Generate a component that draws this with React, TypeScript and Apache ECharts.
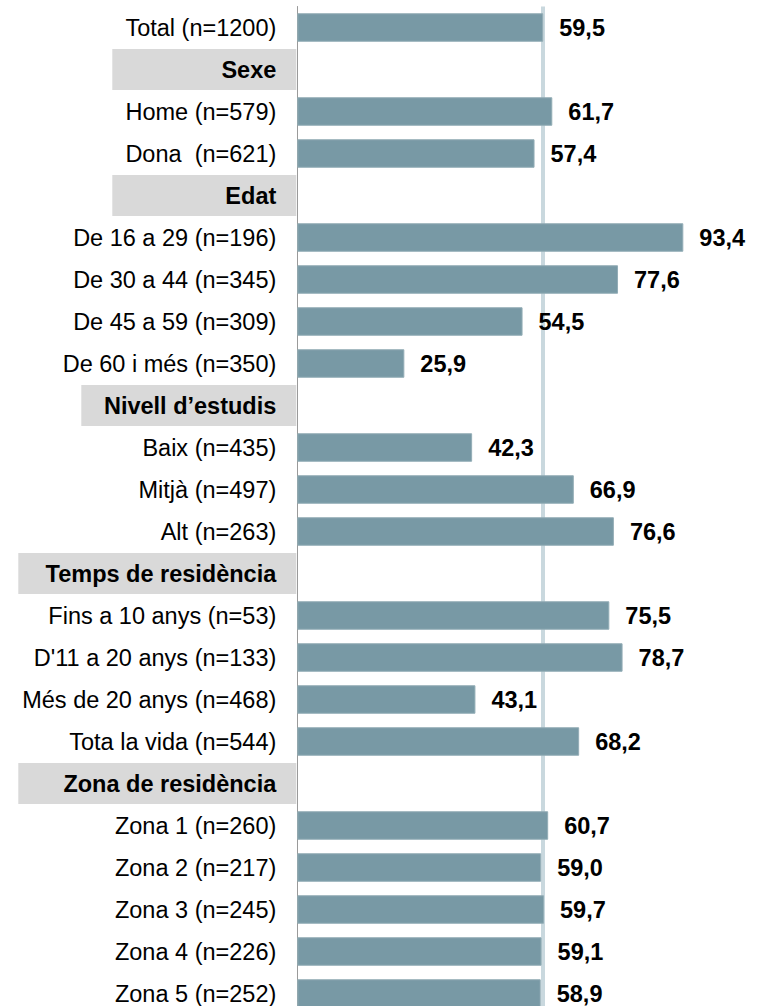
import React, { useEffect, useRef } from "react";
import * as echarts from "echarts";

const categories: string[] = [
  "Total (n=1200)",
  "Sexe",
  "Home (n=579)",
  "Dona  (n=621)",
  "Edat",
  "De 16 a 29 (n=196)",
  "De 30 a 44 (n=345)",
  "De 45 a 59 (n=309)",
  "De 60 i més (n=350)",
  "Nivell d’estudis",
  "Baix (n=435)",
  "Mitjà (n=497)",
  "Alt (n=263)",
  "Temps de residència",
  "Fins a 10 anys (n=53)",
  "D'11 a 20 anys (n=133)",
  "Més de 20 anys (n=468)",
  "Tota la vida (n=544)",
  "Zona de residència",
  "Zona 1 (n=260)",
  "Zona 2 (n=217)",
  "Zona 3 (n=245)",
  "Zona 4 (n=226)",
  "Zona 5 (n=252)",
];

const values: (number | null)[] = [
  59.5, null, 61.7, 57.4, null, 93.4, 77.6, 54.5, 25.9, null, 42.3, 66.9, 76.6,
  null, 75.5, 78.7, 43.1, 68.2, null, 60.7, 59.0, 59.7, 59.1, 58.9,
];

const headers: string[] = [
  "Sexe",
  "Edat",
  "Nivell d’estudis",
  "Temps de residència",
  "Zona de residència",
];

const totalReference = 59.5;

const FONT = '"Liberation Sans", Arial, Helvetica, sans-serif';
const FS = 23.5;

const headerStyleKey: Record<string, string> = {
  Sexe: "hs",
  Edat: "hs",
  "Nivell d’estudis": "hm",
  "Temps de residència": "hl",
  "Zona de residència": "hl",
};

const headerBox = (w: number) => ({
  fontFamily: FONT,
  fontSize: FS,
  fontWeight: "bold",
  color: "#000",
  backgroundColor: "#d9d9d9",
  width: w,
  height: 41,
  lineHeight: 41,
  align: "right",
  padding: [0, 20, 0, 0],
});

export default function App() {
  const ref = useRef<HTMLDivElement>(null);
  useEffect(() => {
    if (!ref.current) return;
    const chart = echarts.init(ref.current, null, { renderer: "svg" });
    chart.setOption({
      animation: false,
      backgroundColor: "#ffffff",
      grid: { left: 297.3, right: 51.4, top: 6.5, bottom: 0.5, containLabel: false },
      xAxis: {
        type: "value",
        min: 0,
        max: 100,
        show: false,
        splitLine: { show: false },
      },
      yAxis: {
        type: "category",
        inverse: true,
        data: categories,
        axisTick: { show: false },
        axisLine: { show: true, lineStyle: { color: "#9a9a9a", width: 1 } },
        axisLabel: {
          margin: 1,
          formatter: (v: string) =>
            headers.includes(v) ? `{${headerStyleKey[v]}|${v}}` : `{n|${v}}`,
          rich: {
            n: {
              fontFamily: FONT,
              fontSize: FS,
              color: "#000",
              padding: [0, 20, 0, 0],
            },
            hs: headerBox(164),
            hm: headerBox(195),
            hl: headerBox(258),
          },
        },
      },
      series: [
        {
          type: "line",
          data: [],
          z: 1,
          silent: true,
          markLine: {
            silent: true,
            z: 1,
            symbol: "none",
            label: { show: false },
            lineStyle: { color: "#c9d8de", width: 4, type: "solid" },
            data: [{ xAxis: totalReference }],
          },
        },
        {
          type: "bar",
          z: 3,
          barWidth: 28.5,
          data: values.map((v) => (v === null ? "-" : v)),
          itemStyle: { color: "#7899a5", borderColor: "#93adb6", borderWidth: 1 },
          label: {
            show: true,
            position: "right",
            distance: 16,
            fontFamily: FONT,
            fontSize: FS,
            fontWeight: "bold",
            color: "#000",
            formatter: (p: any) => Number(p.value).toFixed(1).replace(".", ","),
          },
        },
      ],
    });
    return () => chart.dispose();
  }, []);
  return (
    <div
      style={{
        position: "absolute",
        left: 0,
        top: 0,
        width: 762,
        height: 1006,
        overflow: "hidden",
        background: "#fff",
      }}
    >
      <div ref={ref} style={{ width: 762, height: 1015 }} />
    </div>
  );
}
